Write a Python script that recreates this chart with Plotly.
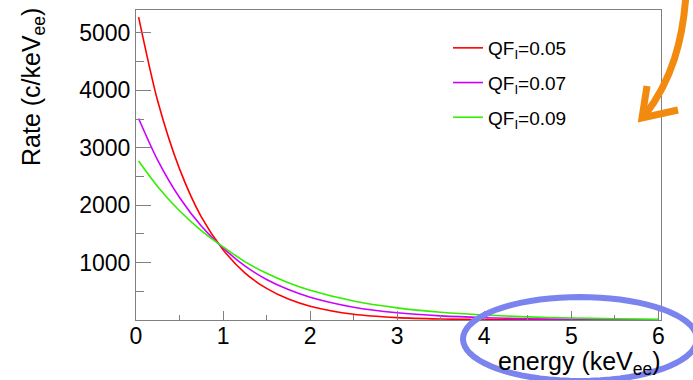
import plotly.graph_objects as go
import math

# ---- data ----
energy = [0.03, 0.25, 0.5, 0.75, 1.0, 1.25, 1.5, 1.75, 2.0, 2.5, 3.0, 3.5, 4.0, 4.5, 5.0, 5.5, 6.0]
rate_qf005 = [5276, 3810, 2632, 1796, 1225, 821, 550, 364, 241, 99, 41, 17, 7, 3, 1.2, 0.5, 0.2]
rate_qf007 = [3510, 2780, 2133, 1636, 1255, 942, 706, 530, 397, 223, 126, 71, 40, 22, 12, 7, 4]
rate_qf009 = [2770, 2323, 1902, 1557, 1275, 1018, 813, 649, 518, 330, 211, 134, 86, 55, 35, 22, 14]
series_names = ["QF<sub>I</sub>=0.05", "QF<sub>I</sub>=0.07", "QF<sub>I</sub>=0.09"]
series_colors = ["#ff0000", "#cc00ff", "#33ee00"]
x_ticks = [0, 1, 2, 3, 4, 5, 6]
y_ticks = [1000, 2000, 3000, 4000, 5000]

# ---- layout geometry (pixels) ----
W, H = 693, 380
L, R, T, B = 136, 32, 10, 60
PW, PH = W - L - R, H - T - B

def px(x):
    return (x - L) / PW

def py(y):
    return (H - B - y) / PH

FONT = "Liberation Sans, Arial, Helvetica, sans-serif"
GRAY = "#808080"

fig = go.Figure()
for i, (name, vals, col) in enumerate(zip(series_names, [rate_qf005, rate_qf007, rate_qf009], series_colors)):
    fig.add_trace(go.Scatter(
        x=energy, y=vals, mode="lines", name=name,
        line=dict(color=col, width=1.6, shape="spline", smoothing=0.8),
        legendgroup=f"g{i}",
    ))

fig.update_layout(
    width=W, height=H,
    margin=dict(l=L, r=R, t=T, b=B, pad=0),
    paper_bgcolor="white", plot_bgcolor="white",
    font=dict(family=FONT, color="black"),
    showlegend=True,
    legend=dict(
        x=px(448), y=py(29), xanchor="left", yanchor="top",
        bgcolor="rgba(0,0,0,0)", borderwidth=0,
        font=dict(size=19, family=FONT),
        tracegroupgap=7,
    ),
    xaxis=dict(
        range=[0, 6.03], showgrid=False, zeroline=False,
        showline=True, linecolor=GRAY, linewidth=1, mirror=True,
        ticks="inside", ticklen=9, tickcolor=GRAY, tickwidth=1,
        tickvals=x_ticks, ticktext=[str(v) for v in x_ticks],
        tickfont=dict(size=23, family=FONT),
        ticklabelstandoff=-5,
        minor=dict(dtick=0.5, ticks="inside", ticklen=5, tickcolor=GRAY),
    ),
    yaxis=dict(
        range=[0, 5400], showgrid=False, zeroline=False,
        showline=True, linecolor=GRAY, linewidth=1, mirror=True,
        ticks="inside", ticklen=15, tickcolor=GRAY, tickwidth=1,
        tickvals=y_ticks, ticktext=[str(v) for v in y_ticks],
        tickfont=dict(size=23, family=FONT),
        minor=dict(dtick=500, ticks="inside", ticklen=8, tickcolor=GRAY),
    ),
)

# axis titles (ROOT style: aligned to the end of the axis)
fig.add_annotation(
    text="Rate (c/keV<sub>ee</sub>)", xref="paper", yref="paper",
    x=px(33), y=py(87), xanchor="center", yanchor="middle",
    textangle=-90, showarrow=False, font=dict(size=25, family=FONT),
)
fig.add_annotation(
    text="energy (keV<sub>ee</sub>)", xref="paper", yref="paper",
    x=px(663), y=py(345), xanchor="right", yanchor="top",
    showarrow=False, font=dict(size=25, family=FONT),
)

# hand-drawn blue ellipse around the x-axis title
cx, cy, rx, ry = 580, 339, 117, 42
pts = []
for k in range(0, 73):
    a = 2 * math.pi * k / 72
    pts.append((px(cx + rx * math.cos(a)), py(cy + ry * math.sin(a))))
path = "M " + " L ".join(f"{a:.5f},{b:.5f}" for a, b in pts) + " Z"
fig.add_shape(type="path", path=path, xref="paper", yref="paper",
              line=dict(color="#7b83ee", width=6), layer="above")

# hand-drawn orange arrow
def P(x, y):
    return f"{px(x):.5f},{py(y):.5f}"

arrow_shaft = f"M {P(686, -6)} C {P(683, 40)} {P(672, 80)} {P(645, 115)}"
arrow_head = f"M {P(647, 86)} L {P(642, 118)} L {P(678, 110)}"
for pth in (arrow_shaft, arrow_head):
    fig.add_shape(type="path", path=pth, xref="paper", yref="paper",
                  line=dict(color="#f28a10", width=7), layer="above")

fig.write_html("out.html")
